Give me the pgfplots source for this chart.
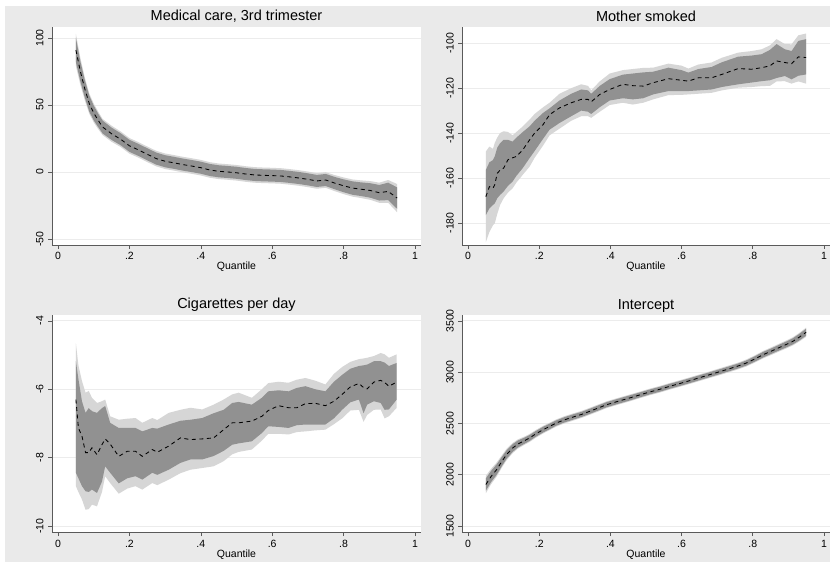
\documentclass[border=0pt]{standalone}
\usepackage{fontspec}
\setmainfont{Liberation Sans}
\usepackage{pgfplots}
\usepackage{pgfplotstable}
\pgfplotsset{compat=1.18}
\usepgfplotslibrary{fillbetween}

\definecolor{bggray}{RGB}{234,234,234}
\definecolor{gridgray}{RGB}{236,236,236}
\definecolor{axisgray}{RGB}{90,90,90}
\definecolor{band95}{RGB}{214,214,214}
\definecolor{band90}{RGB}{145,145,145}

% columns: quantile, estimate, outer band (lo2,hi2), inner band (lo1,hi1)
\pgfplotstableread{
q est lo2 hi2 lo1 hi1
0.050 91 79 103 82 100
0.0625 75 65 85 67.5 82.5
0.075 62 53.5 70.5 55.5 68.5
0.0875 51 43.5 58.5 45 57
0.100 44 37 51 38.5 49.5
0.1125 38.5 32 45 33.5 43.5
0.125 33.5 27.5 39.5 28.7 38.3
0.150 28.5 22.5 34.5 23.9 33.1
0.175 24.5 18.7 30.3 20 29
0.200 19.5 13.7 25.3 15 24
0.225 16.5 10.7 22.3 12 21
0.250 13.2 7.4 19 8.7 17.7
0.275 10 4.2 15.8 5.5 14.5
0.300 8 2.2 13.8 3.5 12.5
0.325 6.8 1 12.6 2.3 11.3
0.350 5.5 -0.3 11.3 1 10
0.375 4.4 -1.4 10.2 -0.1 8.9
0.400 3.2 -2.6 9 -1.3 7.7
0.425 1.5 -4.3 7.3 -3 6
0.450 0.5 -5.3 6.3 -4 5
0.475 0 -5.8 5.8 -4.5 4.5
0.500 -0.6 -6.4 5.2 -5.1 3.9
0.525 -1.5 -7.3 4.3 -6 3
0.550 -2.2 -8 3.6 -6.7 2.3
0.575 -2.5 -8.3 3.3 -7 2
0.600 -2.7 -8.5 3.1 -7.2 1.8
0.625 -3.0 -8.8 2.8 -7.5 1.5
0.650 -3.7 -9.5 2.1 -8.2 0.8
0.675 -4.5 -10.3 1.3 -9 0
0.700 -5.5 -11.3 0.3 -10 -1
0.725 -6.7 -12.5 -0.9 -11.2 -2.2
0.750 -6.0 -11.8 -0.2 -10.5 -1.5
0.775 -8.3 -14.3 -2.3 -12.9 -3.7
0.800 -10.3 -16.5 -4.1 -15.1 -5.5
0.825 -12 -18.4 -5.6 -17 -7
0.850 -12.9 -19.5 -6.3 -18 -7.8
0.875 -13.8 -20.8 -6.8 -19.2 -8.4
0.900 -15.5 -23 -8 -21.3 -9.7
0.925 -14.5 -23 -6 -21 -8
0.950 -19.5 -30 -9 -27.5 -11.5
}\medcare

\pgfplotstableread{
q est lo2 hi2 lo1 hi1
0.050 -168.3 -188.5 -148.2 -176.5 -156.4
0.060 -163.8 -184 -146 -173.5 -153
0.070 -164.5 -181 -147 -172 -152
0.075 -163 -180.2 -144.4 -171.3 -150.4
0.082 -157.9 -176 -142 -169 -146.5
0.090 -156.5 -172 -140 -167.5 -144.5
0.100 -155.6 -169 -139.2 -166 -143
0.112 -151.9 -166.5 -139.5 -163.5 -143
0.125 -151 -164.6 -141 -161.6 -143.8
0.136 -150.4 -162 -139.5 -159 -142
0.154 -147.4 -158.5 -137 -155.5 -139.5
0.173 -143 -154.9 -134 -151.1 -137
0.187 -140 -151 -131.5 -148 -134.5
0.211 -136.2 -145.5 -128.5 -142.5 -131
0.229 -131.8 -141 -126.5 -138.5 -129
0.257 -128.8 -138 -122.5 -135.5 -125.5
0.290 -126.5 -134.5 -120 -132.5 -122.5
0.318 -125 -132.5 -118.3 -130 -120.6
0.337 -125 -132.5 -119 -130.5 -121
0.346 -126.1 -133.2 -121 -131.5 -122.5
0.370 -122.8 -130.5 -117 -128.5 -119
0.398 -120.6 -127.5 -113.5 -125.5 -116
0.435 -118.3 -126.5 -112 -124.5 -114
0.463 -118.9 -127.3 -111.5 -125 -113.5
0.492 -119.1 -126.5 -111 -124.5 -113
0.520 -117.6 -125 -110.9 -122.8 -112.7
0.563 -115.8 -123.1 -109.1 -121.3 -110.9
0.600 -116.5 -123 -110 -121.3 -112
0.619 -116.9 -122.8 -111.3 -121.3 -113.1
0.647 -115.4 -122.5 -109.5 -121 -111.5
0.684 -115.4 -122.1 -108.6 -120.6 -110.6
0.713 -113.9 -121 -106.5 -119.5 -108.5
0.759 -111.3 -119.8 -104.2 -118.3 -106
0.797 -111.6 -119.5 -103.5 -117.5 -105.5
0.825 -110.9 -119.1 -102.7 -116.9 -104.9
0.848 -110.1 -119 -101 -116.5 -103
0.867 -107.9 -117 -98.2 -115.5 -100.4
0.890 -108.6 -116.9 -100.4 -114.6 -102.7
0.909 -109.1 -118 -100.5 -116.1 -103.5
0.928 -106.1 -117 -96.5 -114.5 -99
0.950 -106.4 -118 -95.7 -113.9 -98.2
}\smoked

\pgfplotstableread{
q est lo2 hi2 lo1 hi1
0.050 -6.3 -8.83 -4.66 -8.44 -5.18
0.057 -7.13 -9.0 -5.3 -8.6 -5.7
0.067 -7.37 -9.22 -5.76 -8.83 -6.35
0.077 -7.85 -9.52 -6.1 -8.98 -6.69
0.086 -7.85 -9.5 -6.05 -9.0 -6.55
0.095 -7.71 -9.37 -6.25 -8.93 -6.64
0.109 -7.91 -9.42 -6.4 -9.03 -6.69
0.123 -7.62 -9.0 -6.35 -8.7 -6.55
0.132 -7.45 -8.54 -6.3 -8.25 -6.49
0.146 -7.6 -8.74 -6.79 -8.44 -6.98
0.170 -7.96 -9.05 -6.89 -8.75 -7.13
0.194 -7.81 -8.9 -6.86 -8.6 -7.13
0.217 -7.81 -8.83 -6.84 -8.54 -7.13
0.236 -7.96 -8.93 -6.98 -8.64 -7.23
0.264 -7.76 -8.74 -6.84 -8.44 -7.13
0.278 -7.84 -8.8 -6.9 -8.5 -7.15
0.310 -7.66 -8.64 -6.69 -8.35 -7.03
0.343 -7.42 -8.45 -6.6 -8.15 -6.92
0.371 -7.47 -8.35 -6.54 -8.05 -6.89
0.404 -7.45 -8.3 -6.59 -8.05 -6.84
0.436 -7.42 -8.25 -6.45 -7.95 -6.7
0.464 -7.18 -8.1 -6.3 -7.8 -6.6
0.488 -6.98 -7.9 -6.15 -7.62 -6.4
0.506 -6.98 -7.83 -6.1 -7.58 -6.37
0.543 -6.93 -7.76 -6.25 -7.52 -6.45
0.571 -6.79 -7.5 -6.0 -7.28 -6.25
0.589 -6.62 -7.3 -5.82 -7.08 -6.06
0.618 -6.48 -7.3 -5.78 -7.1 -6.03
0.646 -6.54 -7.32 -5.81 -7.13 -6.06
0.669 -6.54 -7.25 -5.72 -7.05 -5.96
0.693 -6.42 -7.23 -5.67 -7.03 -5.91
0.721 -6.41 -7.2 -5.75 -7.03 -6.0
0.749 -6.48 -7.18 -5.86 -7.03 -6.06
0.773 -6.35 -7.02 -5.55 -6.85 -5.78
0.796 -6.15 -6.85 -5.35 -6.6 -5.58
0.819 -5.93 -6.62 -5.2 -6.38 -5.4
0.843 -5.83 -6.6 -5.12 -6.3 -5.32
0.856 -5.95 -6.95 -5.1 -6.7 -5.3
0.866 -5.99 -6.75 -5.08 -6.45 -5.28
0.885 -5.79 -6.6 -5.03 -6.35 -5.18
0.904 -5.74 -6.59 -4.94 -6.4 -5.18
0.915 -5.8 -6.85 -4.98 -6.6 -5.22
0.927 -5.91 -6.79 -5.08 -6.59 -5.32
0.949 -5.79 -6.54 -4.98 -6.3 -5.23
}\cigs

\pgfplotstableread{
q est lo2 hi2 lo1 hi1
0.050 1905 1820 1990 1845 1965
0.065 1985 1910 2060 1930 2040
0.080 2049 1980 2118 1998 2100
0.095 2130 2070 2190 2085 2175
0.108 2196 2140 2252 2155 2237
0.125 2260 2210 2310 2222 2298
0.140 2300 2255 2345 2266 2334
0.160 2335 2295 2375 2305 2365
0.173 2359 2320 2398 2330 2388
0.190 2398 2360 2436 2370 2426
0.211 2440 2403 2477 2412 2468
0.230 2473 2437 2509 2446 2500
0.248 2505 2470 2540 2479 2531
0.270 2535 2500 2570 2509 2561
0.295 2563 2528 2598 2537 2589
0.320 2590 2556 2624 2565 2615
0.342 2619 2585 2653 2594 2644
0.365 2650 2616 2684 2625 2675
0.389 2683 2650 2716 2658 2708
0.420 2715 2682 2748 2690 2740
0.454 2749 2716 2782 2724 2774
0.480 2776 2744 2808 2752 2800
0.510 2807 2775 2839 2783 2831
0.540 2835 2803 2867 2811 2859
0.567 2863 2831 2895 2839 2887
0.595 2890 2858 2922 2866 2914
0.623 2918 2886 2950 2894 2942
0.650 2946 2914 2978 2922 2970
0.679 2976 2944 3008 2952 3000
0.705 3003 2970 3036 2979 3027
0.735 3035 3002 3068 3011 3059
0.760 3062 3029 3095 3038 3086
0.782 3090 3056 3124 3065 3115
0.805 3128 3093 3163 3102 3154
0.829 3171 3135 3207 3144 3198
0.853 3207 3170 3244 3180 3234
0.876 3243 3205 3281 3215 3271
0.895 3272 3233 3311 3243 3301
0.913 3302 3262 3342 3272 3332
0.930 3340 3298 3382 3308 3372
0.950 3390 3345 3435 3356 3424
}\intercept

\pgfplotsset{
  every axis title shift=0pt,
  panel/.style={
    scale only axis,
    xmin=-0.017, xmax=1.017,
    axis lines=left,
    axis line style={-, draw=axisgray, line width=0.6pt},
    axis background/.style={fill=white},
    tick align=outside,
    major tick length=4pt,
    tick style={draw=axisgray, line width=0.6pt},
    xtick={0,0.2,0.4,0.6,0.8,1},
    xticklabels={0,.2,.4,.6,.8,1},
    ymajorgrids,
    grid style={draw=gridgray, line width=0.9pt},
    ticklabel style={font=\fontsize{10.5}{12}\selectfont},
    xticklabel style={anchor=base, inner sep=0pt},
    xticklabel shift=11pt,
    yticklabel style={rotate=90, anchor=base, inner sep=0pt},
    yticklabel shift=4.5pt,
    title style={at={(0.5,1)}, anchor=base, yshift=6pt, inner sep=0pt,
      font=\fontsize{14.5}{17}\selectfont},
    xlabel={Quantile},
    xlabel style={at={(0.5,0)}, anchor=base, yshift=-25pt, inner sep=0pt,
      font=\fontsize{10.5}{12}\selectfont},
  },
}

% draw the two bands and the estimate from one table
\newcommand{\bands}[1]{%
  \addplot[name path=u2, draw=none] table[x=q, y=hi2] {#1};
  \addplot[name path=l2, draw=none] table[x=q, y=lo2] {#1};
  \addplot[fill=band95, draw=none] fill between[of=u2 and l2];
  \addplot[name path=u1, draw=none] table[x=q, y=hi1] {#1};
  \addplot[name path=l1, draw=none] table[x=q, y=lo1] {#1};
  \addplot[fill=band90, draw=none] fill between[of=u1 and l1];
  \addplot[black, line width=0.85pt, dash pattern=on 4pt off 3.5pt] table[x=q, y=est] {#1};
}

\pagecolor{bggray}

\begin{document}
\begin{tikzpicture}
% white outer margin round the gray graph region
\fill[white] (0pt,0pt) rectangle (5pt,565pt);
\fill[white] (830pt,0pt) rectangle (832pt,565pt);
\fill[white] (0pt,0pt) rectangle (832pt,3pt);
\fill[white] (0pt,559pt) rectangle (832pt,565pt);

\begin{axis}[panel, at={(52pt,320pt)}, anchor=south west, width=369pt, height=218pt,
  title={Medical care, 3rd trimester},
  ymin=-54.5, ymax=108.2, ytick={-50,0,50,100}, yticklabels={-50,0,50,100}]
\bands{\medcare}
\end{axis}

\begin{axis}[panel, at={(462pt,320pt)}, anchor=south west, width=368pt, height=218pt,
  title={Mother smoked},
  ymin=-189.8, ymax=-92.8, ytick={-180,-160,-140,-120,-100},
  yticklabels={-180,-160,-140,-120,-100}]
\bands{\smoked}
\end{axis}

\begin{axis}[panel, at={(52pt,33pt)}, anchor=south west, width=369pt, height=217pt,
  title={Cigarettes per day},
  ymin=-10.17, ymax=-3.83, ytick={-10,-8,-6,-4}, yticklabels={-10,-8,-6,-4}]
\bands{\cigs}
\end{axis}

\begin{axis}[panel, at={(462pt,33pt)}, anchor=south west, width=368pt, height=217pt,
  title={Intercept},
  ymin=1442, ymax=3558, ytick={1500,2000,2500,3000,3500},
  yticklabels={1500,2000,2500,3000,3500}]
\bands{\intercept}
\end{axis}
\end{tikzpicture}
\end{document}
